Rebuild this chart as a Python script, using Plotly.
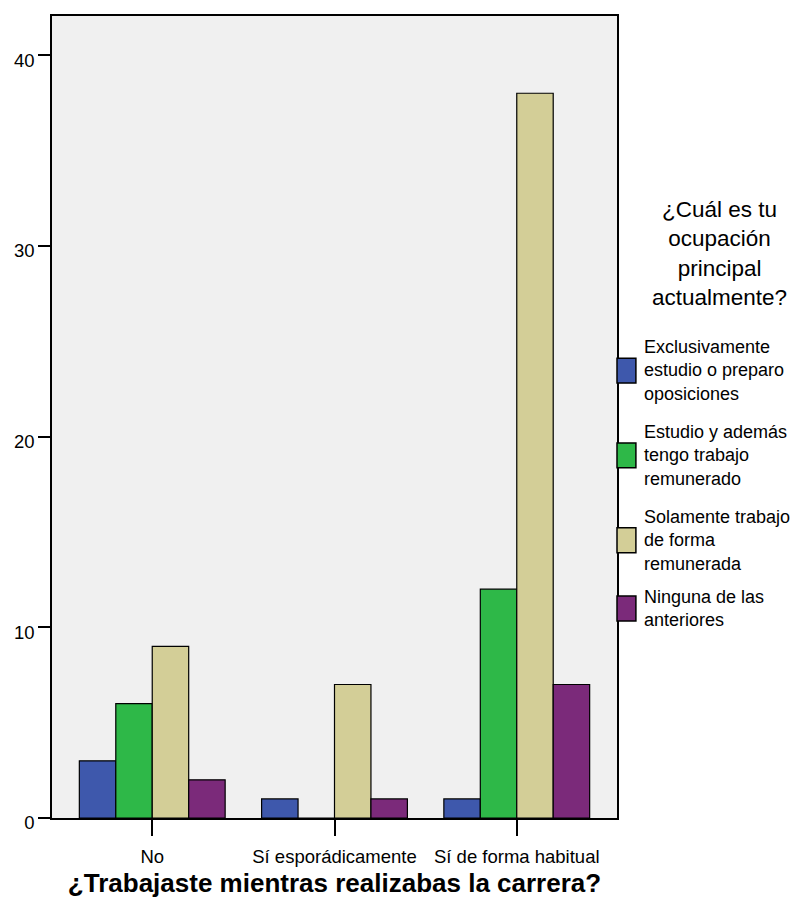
import plotly.graph_objects as go

categories = ["No", "Sí esporádicamente", "Sí de forma habitual"]
series_names = [
    "Exclusivamente<br>estudio o preparo<br>oposiciones",
    "Estudio y además<br>tengo trabajo<br>remunerado",
    "Solamente trabajo<br>de forma<br>remunerada",
    "Ninguna de las<br>anteriores",
]
values_exclusivamente = [3, 1, 1]
values_estudio_trabajo = [6, 0, 12]
values_solamente_trabajo = [9, 7, 38]
values_ninguna = [2, 1, 7]
series_values = [values_exclusivamente, values_estudio_trabajo,
                 values_solamente_trabajo, values_ninguna]
colors = ["#3E58AC", "#2EB848", "#D3CE97", "#7B2A7A"]
y_ticks = [0, 10, 20, 30, 40]
legend_title = "¿Cuál es tu<br>ocupación<br>principal<br>actualmente?"
x_title = "¿Trabajaste mientras realizabas la carrera?"

FONT = "Liberation Sans, Arial, Helvetica, sans-serif"
OFF = 8  # the page body adds an 8px margin; figure coords = screen coords - OFF
W, H = 800 - OFF, 914 - 2 * OFF
L, R, T, B = 49 - OFF, 617 - OFF, 14 - OFF, 818 - OFF  # plot area in figure pixels

def px_x(p):
    # p given in screen pixels
    return (p - OFF - L) / (R - L)

def px_y(p):
    return (B - (p - OFF)) / (B - T)

fig = go.Figure()
for name, vals, col in zip(series_names, series_values, colors):
    fig.add_trace(go.Bar(
        x=categories, y=vals, name=name.replace("<br>", " "),
        marker=dict(color=col, line=dict(color="black", width=1.2)),
        showlegend=False,
    ))

# manual legend (swatches + multi-line labels), positions in screen pixels
item_centers = [369.5, 454.5, 539.5, 608]
for name, col, cy in zip(series_names, colors, item_centers):
    fig.add_shape(type="rect", xref="paper", yref="paper",
                  x0=px_x(617), x1=px_x(636),
                  y0=px_y(cy + 12.5), y1=px_y(cy - 12.5),
                  fillcolor=col, line=dict(color="black", width=1.5))
    fig.add_annotation(text=name, xref="paper", yref="paper",
                       x=px_x(642), y=px_y(cy), xanchor="left", yanchor="middle",
                       align="left", showarrow=False,
                       font=dict(family=FONT, size=18, color="black"))

fig.add_annotation(text=legend_title, xref="paper", yref="paper",
                   x=px_x(720), y=px_y(252), xanchor="center", yanchor="middle",
                   align="center", showarrow=False,
                   font=dict(family=FONT, size=22.5, color="black"))

fig.update_layout(
    width=W, height=H,
    margin=dict(l=L, r=W - R, t=T, b=H - B, pad=0),
    paper_bgcolor="white", plot_bgcolor="#F0F0F0",
    barmode="group", bargap=0.2, bargroupgap=0,
    font=dict(family=FONT, size=18.5, color="black"),
    xaxis=dict(
        range=[-0.55, 2.55], showline=True, linecolor="black", linewidth=1.5,
        mirror=True, ticks="outside", ticklen=16, tickwidth=1.5, tickcolor="black",
        showgrid=False, ticklabelstandoff=5,
        tickfont=dict(family=FONT, size=18.5, color="black"),
        title=dict(text="<b>" + x_title + "</b>", standoff=8,
                   font=dict(family=FONT, size=26, color="black")),
    ),
    yaxis=dict(
        range=[0, 42.05], showline=True, linecolor="black", linewidth=1.5,
        mirror=True, ticks="outside", ticklen=12, tickwidth=1.5, tickcolor="black",
        showgrid=False, zeroline=False, tickvals=y_ticks,
        ticklabelshift=5,
        tickfont=dict(family=FONT, size=18.5, color="black"),
    ),
)

fig.write_html("out.html")
